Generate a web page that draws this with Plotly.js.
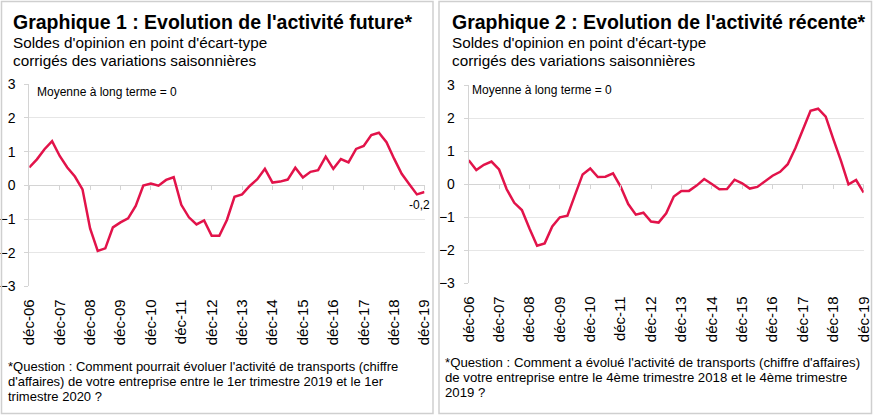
<!DOCTYPE html>
<html>
<head>
<meta charset="utf-8">
<script src="https://cdn.plot.ly/plotly-3.0.1.min.js"></script>
<style>
  html, body { margin: 0; padding: 0; background: #fff; }
  #chart { width: 873px; height: 415px; }
</style>
</head>
<body>
<div id="chart"></div>
<script>
// =========================
// DATA (quarterly, déc-06 to déc-19)
// =========================
const annees = ['déc-06', 'déc-07', 'déc-08', 'déc-09', 'déc-10', 'déc-11', 'déc-12',
    'déc-13', 'déc-14', 'déc-15', 'déc-16', 'déc-17', 'déc-18', 'déc-19'];

const activiteFuture = [0.53, 0.77, 1.07, 1.31, 0.87, 0.53, 0.26, -0.12, -1.28, -1.95,
    -1.87, -1.25, -1.10, -0.98, -0.61, -0.01, 0.05, -0.01, 0.16, 0.24,
    -0.58, -0.95, -1.16, -1.04, -1.50, -1.50, -1.03, -0.34, -0.27, -0.02,
    0.18, 0.49, 0.08, 0.11, 0.17, 0.52, 0.23, 0.40, 0.45, 0.85,
    0.49, 0.78, 0.68, 1.08, 1.17, 1.49, 1.56, 1.28, 0.79, 0.34,
    0.03, -0.27, -0.20];

const activiteRecente = [0.73, 0.43, 0.59, 0.69, 0.45, -0.15, -0.56, -0.78, -1.34, -1.86,
    -1.79, -1.28, -1.00, -0.95, -0.32, 0.30, 0.48, 0.22, 0.23, 0.33,
    -0.07, -0.60, -0.92, -0.86, -1.13, -1.16, -0.88, -0.37, -0.20, -0.20,
    -0.04, 0.16, 0.01, -0.15, -0.14, 0.14, 0.03, -0.13, -0.08, 0.10,
    0.26, 0.38, 0.61, 1.09, 1.65, 2.23, 2.29, 2.05, 1.37, 0.72,
    0.00, 0.13, -0.25];

const dernierLabel = '-0,2';

// =========================
// HELPERS
// =========================
const W = 873, H = 415;
const FONT = '"Liberation Sans", Arial, sans-serif';
const RED = '#e2134a';
const GRID = '#e6e6e6';
const AXIS = '#d4d4d4';

function px(x) { return x / W; }
function py(y) { return 1 - y / H; }

const idx = arr => arr.map((v, i) => i);
const tickPos = annees.map((a, i) => i * 4);

function xAxis(left, right, anchor) {
    return {
        domain: [px(left), px(right)],
        range: [0, activiteFuture.length - 1],
        anchor: anchor,
        tickvals: tickPos,
        ticktext: annees,
        tickangle: -90,
        tickfont: { family: FONT, size: 15, color: '#000' },
        ticks: 'outside', ticklen: 6, tickcolor: 'rgba(0,0,0,0)',
        showgrid: false, zeroline: false, showline: false,
        fixedrange: true
    };
}

function yAxis(top, bottom, anchor) {
    return {
        domain: [py(bottom), py(top)],
        range: [-3, 3],
        anchor: anchor,
        dtick: 1,
        tickfont: { family: FONT, size: 14, color: '#000' },
        gridcolor: GRID, gridwidth: 1,
        zeroline: true, zerolinecolor: AXIS, zerolinewidth: 1,
        showline: true, linecolor: AXIS, linewidth: 1,
        ticks: 'outside', ticklen: 4, tickcolor: AXIS,
        ticklabelstandoff: 6,
        fixedrange: true
    };
}

// tick marks sitting on the zero line
function zeroTicks(base, top, bottom) {
    return {
        overlaying: base,
        anchor: 'free',
        position: (py(bottom) + py(top)) / 2,
        range: [0, activiteFuture.length - 1],
        tickvals: tickPos,
        showticklabels: false,
        ticks: 'outside', ticklen: 4, tickcolor: AXIS,
        showgrid: false, zeroline: false, showline: false,
        fixedrange: true
    };
}

// =========================
// TRACES
// =========================
const traces = [
    {
        x: idx(activiteFuture), y: activiteFuture,
        xaxis: 'x', yaxis: 'y',
        mode: 'lines', line: { color: RED, width: 2.5 },
        hoverinfo: 'skip'
    },
    {
        x: idx(activiteRecente), y: activiteRecente,
        xaxis: 'x2', yaxis: 'y2',
        mode: 'lines', line: { color: RED, width: 2.5 },
        hoverinfo: 'skip'
    },
    { x: [], y: [], xaxis: 'x3', yaxis: 'y', hoverinfo: 'skip' },
    { x: [], y: [], xaxis: 'x4', yaxis: 'y2', hoverinfo: 'skip' }
];

// =========================
// TEXTS
// =========================
function note(x, y, text, size, bold) {
    return {
        xref: 'paper', yref: 'paper',
        x: px(x), y: py(y),
        xanchor: 'left', yanchor: 'middle',
        showarrow: false,
        text: bold ? '<b>' + text + '</b>' : text,
        font: { family: FONT, size: size, color: '#000' }
    };
}

const annotations = [
    note(11, 22, "Graphique 1 : Evolution de l'activité future*", 19.5, true),
    note(11, 43, "Soldes d'opinion en point d'écart-type", 15.3),
    note(11, 61, "corrigés des variations saisonnières", 15.3),
    note(35, 92, 'Moyenne à long terme = 0', 12),
    note(6, 366, "*Question : Comment pourrait évoluer l'activité de transports (chiffre", 13),
    note(6, 381, "d'affaires) de votre entreprise entre le 1er trimestre 2019 et le 1er", 13),
    note(6, 396, 'trimestre 2020 ?', 13),

    note(450, 22, "Graphique 2 : Evolution de l'activité récente*", 19.5, true),
    note(450, 43, "Soldes d'opinion en point d'écart-type", 15.3),
    note(450, 61, "corrigés des variations saisonnières", 15.3),
    note(470, 90, 'Moyenne à long terme = 0', 12),
    note(443, 362, "*Question : Comment a évolué l'activité de transports (chiffre d'affaires)", 13.2),
    note(443, 377, 'de votre entreprise entre le 4ème trimestre 2018 et le 4ème trimestre', 13.2),
    note(443, 392, '2019 ?', 13.2),

    {
        xref: 'x', yref: 'y',
        x: activiteFuture.length - 1, y: activiteFuture[activiteFuture.length - 1],
        text: dernierLabel, showarrow: false,
        xanchor: 'center', yanchor: 'top',
        xshift: -5, yshift: -4,
        font: { family: FONT, size: 12, color: '#000' }
    }
];

// panel frames
const shapes = [
    { type: 'rect', xref: 'paper', yref: 'paper',
      x0: px(1.5), x1: px(433), y0: py(413.5), y1: py(1.5),
      line: { color: '#cfcfcf', width: 1.5 } },
    { type: 'rect', xref: 'paper', yref: 'paper',
      x0: px(439), x1: px(871.5), y0: py(413.5), y1: py(1.5),
      line: { color: '#cfcfcf', width: 1.5 } }
];

// =========================
// LAYOUT
// =========================
const layout = {
    width: W, height: H,
    margin: { l: 0, r: 0, t: 0, b: 0 },
    paper_bgcolor: '#fff', plot_bgcolor: '#fff',
    showlegend: false,
    xaxis: xAxis(29.3, 424.5, 'y'),
    yaxis: yAxis(84.2, 286.4, 'x'),
    xaxis2: xAxis(468.7, 863.7, 'y2'),
    yaxis2: yAxis(85.3, 283.3, 'x2'),
    xaxis3: zeroTicks('x', 84.2, 286.4),
    xaxis4: zeroTicks('x2', 85.3, 283.3),
    annotations: annotations,
    shapes: shapes
};

Plotly.newPlot('chart', traces, layout, { displayModeBar: false, staticPlot: true });
</script>
</body>
</html>
